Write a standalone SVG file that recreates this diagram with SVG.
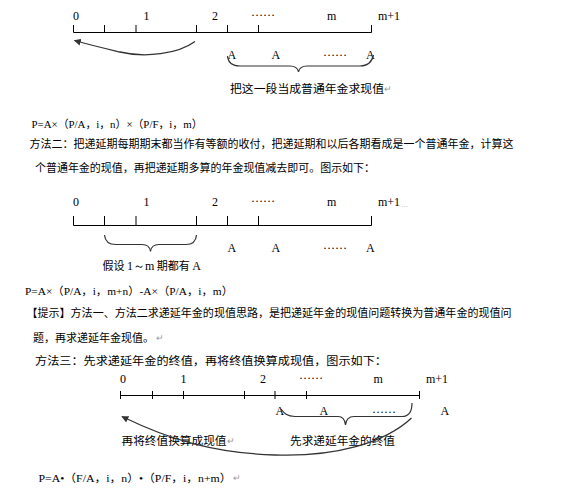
<svg xmlns="http://www.w3.org/2000/svg" width="567" height="495" viewBox="0 0 567 495">
<defs>
<style>
.ax{stroke:#000;stroke-width:1;fill:none}
.br{stroke:#333;stroke-width:1.2;fill:none}
.arr{stroke:#333;stroke-width:1.3;fill:none;marker-end:url(#ah)}
.num{font-family:"Liberation Serif","Times New Roman",serif;font-size:12px;fill:#000}
.cn{font-family:"Noto Sans CJK SC","Liberation Sans",sans-serif;font-size:11px;fill:#000}
.fm{font-family:"Liberation Serif","Noto Sans CJK SC",serif;font-size:11px;fill:#000}
.pm{font-family:"Liberation Sans","Noto Sans CJK SC",sans-serif;font-size:9px;fill:#999}
</style>
<marker id="ah" viewBox="0 0 10 10" refX="9" refY="5" markerWidth="7" markerHeight="7" orient="auto" markerUnits="userSpaceOnUse">
<path d="M0,0 L10,5 L0,10 z" fill="#333"/>
</marker>
</defs>
<rect width="567" height="495" fill="#fff"/>

<g id="diagram1">
<g id="d1-axis">
<path class="ax" d="M73.5,32.5 H371.5 M73.5,25 V32.5 M104.5,25 V32.5 M136,25 V32.5 M196.5,25 V32.5 M227.5,25 V32.5 M258.5,25 V32.5 M371.5,25 V32.5"/>
<text class="num" x="73" y="19.5">0</text>
<text class="num" x="143.5" y="19.5">1</text>
<text class="num" x="212" y="19.5">2</text>
<text class="num" x="251" y="16">……</text>
<text class="num" x="327" y="19.5">m</text>
<text class="num" x="378" y="19.5">m+1</text>
</g>
<g id="d1-payments">
<text class="num" x="227.5" y="58.5">A</text>
<text class="num" x="271.5" y="58.5">A</text>
<text class="num" x="323" y="56">……</text>
<text class="num" x="366" y="58.5">A</text>
</g>
<g id="d1-label">
<text class="cn" x="230" y="92.5" textLength="154" lengthAdjust="spacingAndGlyphs">把这一段当成普通年金求现值</text>
<text class="pm" x="384" y="92">↵</text>
</g>
</g>
<g id="connectors1">
<path class="arr" d="M195,41.5 C178,54 145,58 120,52 C103,48 90,45 74.5,40.5"/>
<path class="br" d="M227.5,56 C228,62 232,66 240,66 L290,66 C296,66 298,69 298.5,72 C299,69 301,66 307,66 L360,66 C368,66 372,62 373.5,55"/>
</g>

<g id="text-block1">
<text class="fm" x="31.5" y="128" textLength="171" lengthAdjust="spacingAndGlyphs">P=A×（P/A，i，n）×（P/F，i，m）</text>
<text class="cn" x="29.5" y="148" textLength="484" lengthAdjust="spacingAndGlyphs">方法二：把递延期每期期末都当作有等额的收付，把递延期和以后各期看成是一个普通年金，计算这</text>
<text class="cn" x="35" y="172" textLength="340" lengthAdjust="spacingAndGlyphs">个普通年金的现值，再把递延期多算的年金现值减去即可。图示如下：</text>
</g>

<g id="diagram2">
<g id="d2-axis">
<path class="ax" d="M73.5,225.5 H371.5 M73.5,216 V225.5 M104.5,216 V225.5 M136,216 V225.5 M196.5,216 V225.5 M227.5,216 V225.5 M258.5,216 V225.5 M371.5,216 V225.5"/>
<text class="num" x="73" y="205.5">0</text>
<text class="num" x="143.5" y="205.5">1</text>
<text class="num" x="212" y="205.5">2</text>
<text class="num" x="251" y="202">……</text>
<text class="num" x="327" y="205.5">m</text>
<text class="num" x="378" y="205.5">m+1</text>
<text class="num" x="401" y="206.5" style="font-size:7px;fill:#aaa">…</text>
</g>
<g id="d2-payments">
<text class="num" x="227.5" y="251.5">A</text>
<text class="num" x="271.5" y="251.5">A</text>
<text class="num" x="323" y="249">……</text>
<text class="num" x="366" y="251.5">A</text>
</g>
<g id="d2-label">
<text class="cn" x="102.5" y="270">假设 <tspan class="num" style="font-size:12px">1～m</tspan> 期都有 <tspan class="num" style="font-size:12px">A</tspan></text>
</g>
</g>
<g id="connectors2">
<path class="br" d="M104.5,235 C105,241 109,244.5 116,244.5 L142,244.5 C148,244.5 150,247 150.5,251.5 C151,247 153,244.5 159,244.5 L186,244.5 C193,244.5 196,241 196.5,235"/>
</g>

<g id="text-block2">
<text class="fm" x="25" y="295" textLength="208" lengthAdjust="spacingAndGlyphs">P=A×（P/A，i，m+n）-A×（P/A，i，m）</text>
<text class="cn" x="26.5" y="317" textLength="485" lengthAdjust="spacingAndGlyphs">【提示】方法一、方法二求递延年金的现值思路，是把递延年金的现值问题转换为普通年金的现值问</text>
<text class="cn" x="33" y="342" textLength="121" lengthAdjust="spacingAndGlyphs">题，再求递延年金现值。</text>
<text class="pm" x="156" y="341">↵</text>
<text class="cn" x="35" y="365" textLength="352" lengthAdjust="spacingAndGlyphs">方法三：先求递延年金的终值，再将终值换算成现值，图示如下：</text>
</g>

<g id="diagram3">
<g id="d3-axis">
<path class="ax" d="M120.5,395.5 H419.5 M120.5,391 V399 M152.5,391 V399 M183.5,391 V399 M244.5,391 V399 M275,391 V399 M306.5,391 V399 M419.5,391 V399"/>
<text class="num" x="120" y="382.5">0</text>
<text class="num" x="180.5" y="382.5">1</text>
<text class="num" x="260" y="382.5">2</text>
<text class="num" x="299" y="379">……</text>
<text class="num" x="373.5" y="382.5">m</text>
<text class="num" x="426" y="382.5">m+1</text>
</g>
<g id="d3-payments">
<text class="num" x="275.5" y="415">A</text>
<text class="num" x="319.5" y="415">A</text>
<text class="num" x="372" y="412.5">……</text>
<text class="num" x="440.5" y="415">A</text>
</g>
<g id="d3-labels">
<text class="cn" x="121.5" y="445" textLength="105" lengthAdjust="spacingAndGlyphs">再将终值换算成现值</text>
<text class="pm" x="227" y="444">↵</text>
<text class="cn" x="290" y="445" textLength="105" lengthAdjust="spacingAndGlyphs">先求递延年金的终值</text>
</g>
</g>
<g id="connectors3">
<path class="br" d="M281,409 C284,413 287,416.5 295,416.5 L338,416.5 C343,416.5 345,420 345.5,425 C346,420 348,416.5 354,416.5 L402,416.5 C409,416.5 412,412 412,403"/>
<path class="arr" d="M411.5,418 C385,443 335,457 275,455 C215,453 170,440 122,416.5"/>
</g>

<g id="text-block3">
<text class="fm" x="38.5" y="481.5" textLength="193" lengthAdjust="spacingAndGlyphs">P=A•（F/A，i，n）•（P/F，i，n+m）</text>
<text class="pm" x="233" y="481">↵</text>
</g>
</svg>
